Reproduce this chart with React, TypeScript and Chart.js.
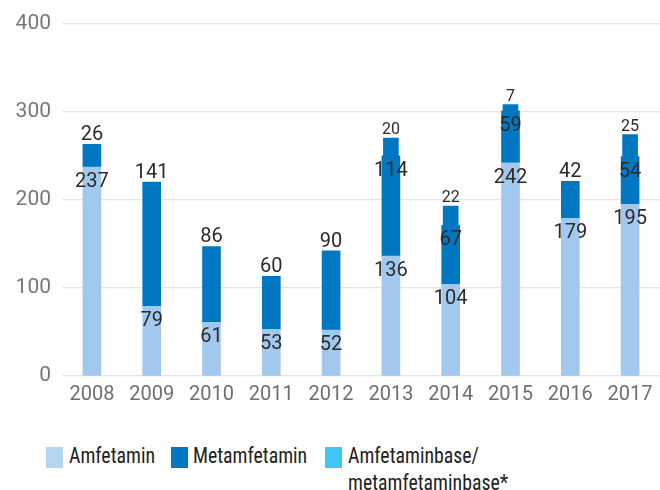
import React, { useEffect, useRef } from "react";
import { Chart, registerables } from "chart.js";

Chart.register(...registerables);

const categories = ["2008", "2009", "2010", "2011", "2012", "2013", "2014", "2015", "2016", "2017"];
const amfetamin = [237, 79, 61, 53, 52, 136, 104, 242, 179, 195];
const metamfetamin = [26, 141, 86, 60, 90, 114, 67, 59, 42, 54];
const baseSeries = [null, null, null, null, null, 20, 22, 7, null, 25];
const yTicks = [0, 100, 200, 300, 400];

const seriesNames = ["Amfetamin", "Metamfetamin", "Amfetaminbase/\nmetamfetaminbase*"];
const legendColors = ["#b3d6f2", "#0077c0", "#40c6f2"];
const barColors = ["#a3c8ee", "#0077c0", "#0077c0"];

const labelPlugin = {
  id: "valueLabels",
  afterDatasetsDraw(chart: any) {
    const ctx = chart.ctx;
    const n = chart.data.labels.length;
    for (let i = 0; i < n; i++) {
      let top = -1;
      chart.data.datasets.forEach((ds: any, d: number) => {
        const v = ds.data[i];
        if (v != null && v > 0) top = d;
      });
      chart.data.datasets.forEach((ds: any, d: number) => {
        const v = ds.data[i];
        if (v == null || v <= 0) return;
        const el = chart.getDatasetMeta(d).data[i];
        if (!el) return;
        const size = d === 2 ? 16 : 20;
        ctx.save();
        ctx.font = `${size}px Roboto, "DejaVu Sans", sans-serif`;
        ctx.fillStyle = "#2b2b2b";
        ctx.textAlign = "center";
        ctx.textBaseline = "alphabetic";
        const y = d === top ? el.y - 4 : el.y + 20;
        ctx.fillText(String(v), el.x, y);
        ctx.restore();
      });
    }
  },
};

export default function App() {
  const ref = useRef<HTMLCanvasElement | null>(null);

  useEffect(() => {
    document.body.style.margin = "0";
    const canvas = ref.current;
    if (!canvas) return;
    const chart = new Chart(canvas, {
      type: "bar",
      data: {
        labels: categories,
        datasets: [
          { label: seriesNames[0], data: amfetamin, backgroundColor: barColors[0], barThickness: 18 },
          { label: seriesNames[1], data: metamfetamin, backgroundColor: barColors[1], barThickness: 18 },
          { label: seriesNames[2], data: baseSeries as any, backgroundColor: barColors[2], barThickness: 15 },
        ],
      },
      options: {
        animation: false,
        responsive: false,
        maintainAspectRatio: false,
        layout: { padding: { top: 21, left: 0, right: 0, bottom: 0 } },
        plugins: {
          legend: { display: false },
          tooltip: { enabled: false },
        },
        scales: {
          x: {
            stacked: true,
            grid: { display: false, drawTicks: false },
            border: { display: false },
            ticks: {
              color: "#6f6f6f",
              font: { family: "Roboto", size: 20 },
              padding: 7,
              maxRotation: 0,
              autoSkip: false,
            },
            afterFit: (s: any) => {
              s.height = 54;
            },
          },
          y: {
            stacked: true,
            min: 0,
            max: 400,
            afterBuildTicks: (s: any) => {
              s.ticks = yTicks.map((v) => ({ value: v }));
            },
            grid: { color: "#e4e4e4", lineWidth: 1.2, drawTicks: false },
            border: { display: false },
            ticks: {
              color: "#777777",
              font: { family: "Roboto", size: 21 },
              padding: 11,
            },
            afterFit: (s: any) => {
              s.width = 62;
            },
          },
        },
      },
      plugins: [labelPlugin],
    });
    return () => chart.destroy();
  }, []);

  const legendFont = '"Liberation Sans Narrow", "Roboto Condensed", "DejaVu Sans Condensed", Roboto, sans-serif';
  const items = [
    { box: 46, text: 69 },
    { box: 171, text: 193 },
    { box: 325, text: 348 },
  ];

  return (
    <div style={{ position: "relative", width: 660, height: 490, overflow: "hidden", background: "#fff" }}>
      <canvas ref={ref} width={660} height={430} style={{ display: "block", width: 660, height: 430 }} />
      {items.map((it, k) => (
        <React.Fragment key={k}>
          <div
            style={{
              position: "absolute",
              left: it.box,
              top: 447,
              width: 17,
              height: 21,
              background: legendColors[k],
            }}
          />
          <div
            style={{
              position: "absolute",
              left: it.text,
              top: 442,
              fontFamily: legendFont,
              fontSize: 22,
              lineHeight: "27px",
              color: "#222",
              whiteSpace: "pre",
              transform: "scaleX(0.9)",
              transformOrigin: "left top",
            }}
          >
            {seriesNames[k]}
          </div>
        </React.Fragment>
      ))}
    </div>
  );
}
